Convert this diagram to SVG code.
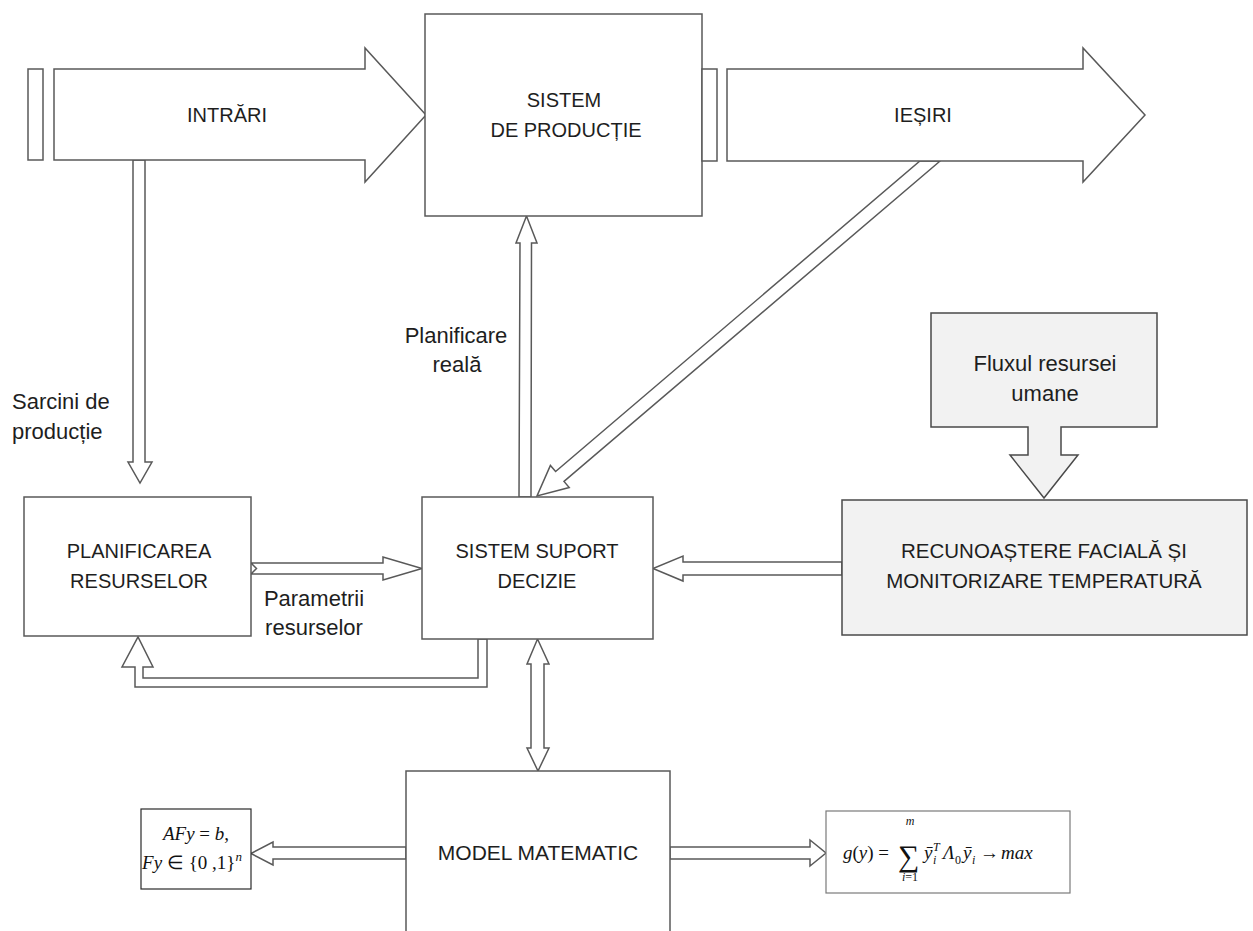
<svg xmlns="http://www.w3.org/2000/svg" width="1253" height="931" viewBox="0 0 1253 931">
  <style>
    .ln { fill: #ffffff; stroke: #595959; stroke-width: 1.5; stroke-linejoin: miter; }
    .sh { fill: #f2f2f2; stroke: #4a4a4a; stroke-width: 1.5; }
    .cap { font-family: "Liberation Sans", Arial, sans-serif; font-size: 20px; fill: #1e1e1e; text-anchor: middle; }
    .lbl { font-family: "Liberation Sans", Arial, sans-serif; font-size: 22px; fill: #1e1e1e; text-anchor: middle; }
    .math { font-family: "Liberation Serif", "Times New Roman", serif; font-size: 19px; fill: #111111; }
    .it { font-style: italic; }
  </style>
  <rect width="1253" height="931" fill="#ffffff"/>

  <!-- connectors: hollow block arrows -->
  <g id="connectors">
    <!-- inputs down to resource planning -->
    <polygon class="ln" points="133,160 133,462 128,462 140,483 152,462 145,462 145,160"/>
    <!-- decision support up to production system -->
    <polygon class="ln" points="519,497 520,243 516,243 526.5,216 537,243 531.5,243 531,497"/>
    <!-- outputs back to decision support -->
    <polygon class="ln" points="940.1,161 564,481.4 569.2,487.5 537,496 550.4,465.5 555.6,471.5 919.9,161"/>
    <!-- resource parameters -->
    <polygon class="ln" points="251,563 383,563 383,557 422,568.5 383,580 383,574 251,574 256.5,568.5"/>
    <!-- feedback to resource planning -->
    <polygon class="ln" points="478,639 478,678 143,678 143,667 153,667 138,637 122,667 135,667 135,687 487,687 487,639"/>
    <!-- face recognition to decision support -->
    <polygon class="ln" points="842,562 683,562 683,556 653,568.5 683,581 683,575 842,575"/>
    <!-- decision support <-> mathematical model -->
    <polygon class="ln" points="537.5,639 549,664 544,664 544,748 549,748 538,771 527,748 531,748 531,664 527,664"/>
    <!-- model to constraints -->
    <polygon class="ln" points="406,847 273,847 273,842 251,853.5 273,865 273,859 406,859"/>
    <!-- model to objective -->
    <polygon class="ln" points="670,847 810,847 810,840 826,853 810,866 810,859 670,859"/>
  </g>

  <g id="intrari">
    <rect class="ln" x="28" y="69" width="15" height="91"/>
    <polygon class="ln" points="54,69 365,69 365,48 426,115 365,182 365,160 54,160"/>
    <text class="cap" x="227" y="122">INTRĂRI</text>
  </g>

  <g id="sistem-productie">
    <rect class="ln" x="425" y="14" width="277" height="202"/>
    <text class="cap" x="564" y="107">SISTEM</text>
    <text class="cap" x="566" y="137">DE PRODUCȚIE</text>
  </g>

  <g id="iesiri">
    <rect class="ln" x="702" y="69" width="15" height="92"/>
    <polygon class="ln" points="727,69 1083,69 1083,48 1145,115 1083,182 1083,161 727,161"/>
    <text class="cap" x="923" y="122">IEȘIRI</text>
  </g>

  <g id="planificarea-resurselor">
    <rect class="ln" x="24" y="497" width="227" height="139"/>
    <text class="cap" x="139" y="558">PLANIFICAREA</text>
    <text class="cap" x="139" y="588">RESURSELOR</text>
  </g>

  <g id="sistem-suport-decizie">
    <rect class="ln" x="422" y="497" width="231" height="142"/>
    <text class="cap" x="537" y="558">SISTEM SUPORT</text>
    <text class="cap" x="537" y="588">DECIZIE</text>
  </g>

  <g id="fluxul-resursei">
    <path class="sh" d="M931,313 H1157 V427 H1061 V455 H1078 L1044,498 L1010,455 H1028 V427 H931 Z"/>
    <text class="lbl" x="1045" y="371">Fluxul resursei</text>
    <text class="lbl" x="1045" y="401">umane</text>
  </g>

  <g id="recunoastere">
    <rect class="sh" x="842" y="500" width="405" height="135"/>
    <text class="cap" x="1044" y="558" style="font-size:20.5px">RECUNOAȘTERE FACIALĂ ȘI</text>
    <text class="cap" x="1044" y="588" style="font-size:20.5px">MONITORIZARE TEMPERATURĂ</text>
  </g>

  <g id="model-matematic">
    <rect class="ln" x="406" y="771" width="264" height="200"/>
    <text class="cap" x="538" y="860" style="font-size:21px">MODEL MATEMATIC</text>
  </g>

  <g id="restrictii">
    <rect x="141" y="809" width="110" height="80" fill="#ffffff" stroke="#2a2a2a" stroke-width="1.2"/>
    <text class="math" x="196" y="840" text-anchor="middle"><tspan class="it">AFy</tspan> = <tspan class="it">b</tspan>,</text>
    <text class="math" x="192" y="869" text-anchor="middle"><tspan class="it">Fy</tspan> ∈ {0 ,1}<tspan font-size="13" dy="-8" class="it">n</tspan></text>
  </g>

  <g id="functie-obiectiv">
    <rect x="826" y="811" width="244" height="82" fill="#ffffff" stroke="#7a7a7a" stroke-width="1.2"/>
    <text class="math" x="843" y="859"><tspan class="it">g</tspan>(<tspan class="it">y</tspan>) =</text>
    <text class="math" x="898" y="866" style="font-size:30px">∑</text>
    <text class="math it" x="910" y="825" style="font-size:12px" text-anchor="middle">m</text>
    <text class="math" x="910" y="881" style="font-size:12px" text-anchor="middle"><tspan class="it">i</tspan>=1</text>
    <text class="math it" x="924" y="859">ȳ</text>
    <text class="math it" x="933" y="851" style="font-size:12px">T</text>
    <text class="math it" x="933" y="864" style="font-size:12px">i</text>
    <text class="math it" x="943" y="859">Λ</text>
    <text class="math" x="955" y="864" style="font-size:12px">0</text>
    <text class="math it" x="963" y="859">ȳ</text>
    <text class="math it" x="972" y="864" style="font-size:12px">i</text>
    <text class="math" x="980" y="859">→</text>
    <text class="math it" x="1001" y="859">max</text>
  </g>

  <g id="etichete">
    <text class="lbl" x="12" y="409" style="text-anchor:start">Sarcini de</text>
    <text class="lbl" x="12" y="439" style="text-anchor:start">producție</text>
    <text class="lbl" x="456" y="343">Planificare</text>
    <text class="lbl" x="457" y="372">reală</text>
    <text class="lbl" x="314" y="606">Parametrii</text>
    <text class="lbl" x="314" y="635">resurselor</text>
  </g>
</svg>
